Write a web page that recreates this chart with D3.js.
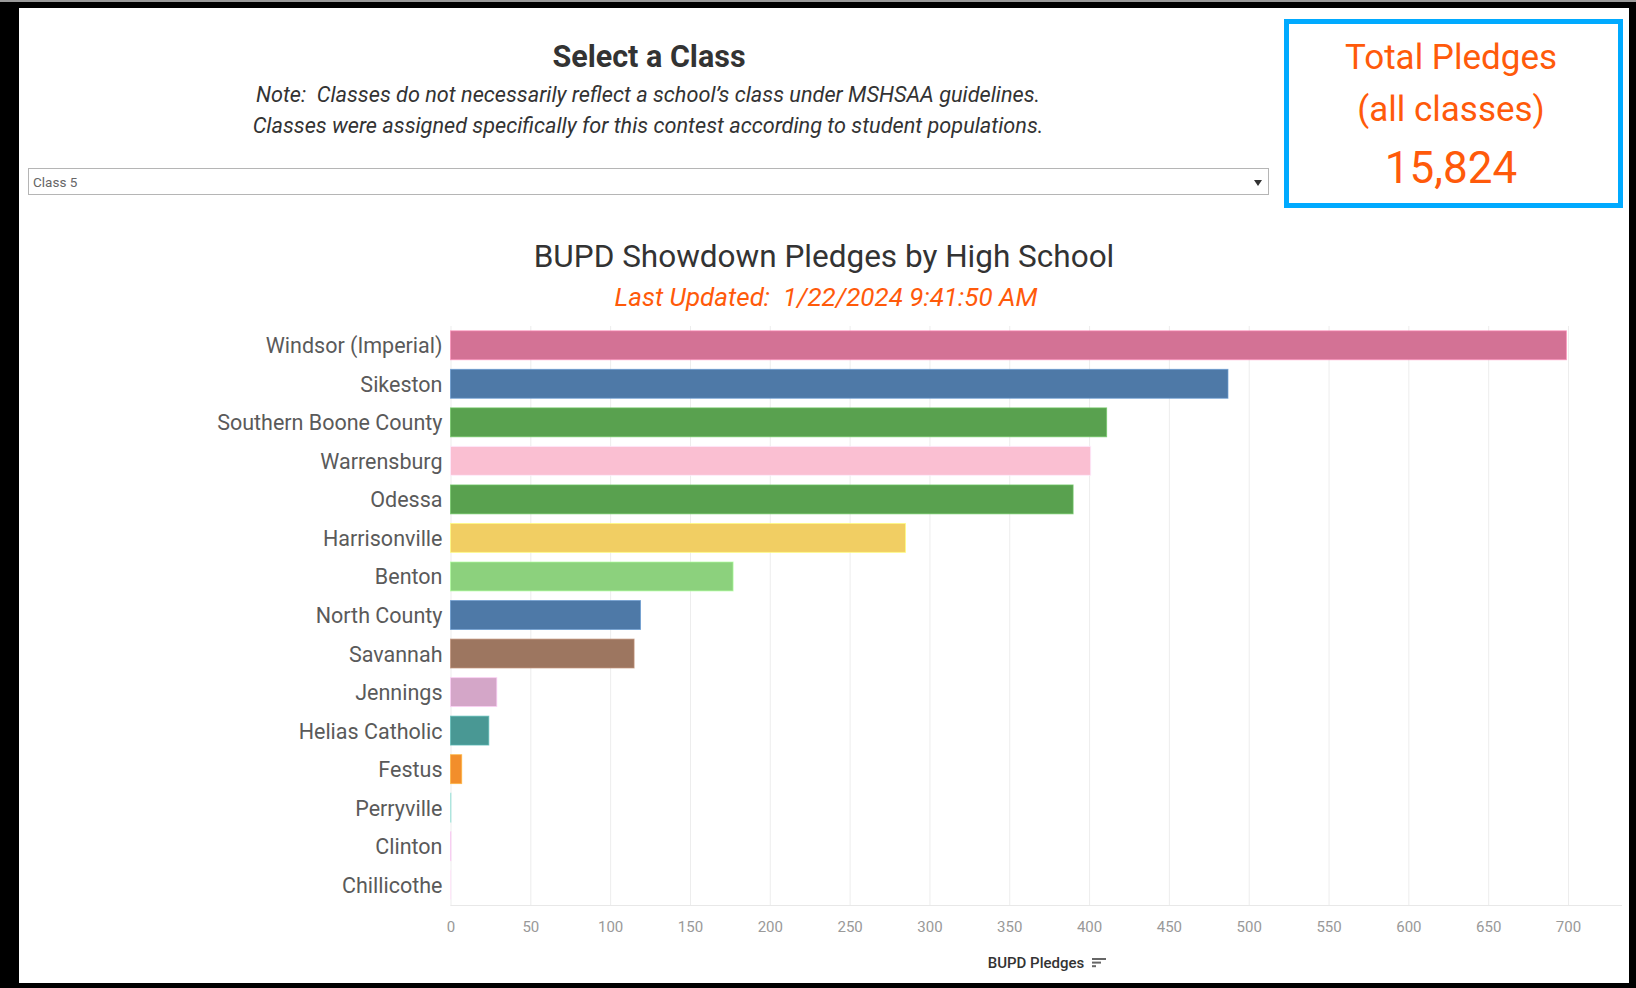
<!DOCTYPE html>
<html>
<head>
<meta charset="utf-8">
<script src="https://cdn.jsdelivr.net/npm/d3@7"></script>
<style>
  html, body { margin: 0; padding: 0; background: #fff; }
  svg { display: block; font-family: Roboto, "Open Sans", sans-serif; }
</style>
</head>
<body>
<svg id="chart" width="1636" height="988"></svg>
<script>
// data (Class 5)
const schools = [
    'Windsor (Imperial)', 'Sikeston', 'Southern Boone County', 'Warrensburg', 'Odessa',
    'Harrisonville', 'Benton', 'North County', 'Savannah', 'Jennings',
    'Helias Catholic', 'Festus', 'Perryville', 'Clinton', 'Chillicothe',
];
const pledges = [699, 487, 411, 401, 390, 285, 177, 119, 115, 29, 24, 7, 0, 0, 0];
const barColors = [
    '#d37295', '#4e79a7', '#59a14f', '#fabfd2', '#59a14f',
    '#f1ce63', '#8cd17d', '#4e79a7', '#9d7660', '#d4a6c8',
    '#499894', '#f28e2b', '#86bcb6', '#d4a6c8', '#fabfd2',
];
const xTicks = [0, 50, 100, 150, 200, 250, 300, 350, 400, 450, 500, 550, 600, 650, 700];
const totalPledges = 15824;
const selectedClass = 'Class 5';

const orange = '#ff5a0a';
const W = 1636;
const H = 988;

const svg = d3.select('#chart');

// Frame

svg.append('rect').attr('width', W).attr('height', H).attr('fill', '#000');
svg.append('rect').attr('width', W).attr('height', 2).attr('fill', '#9a9a9a');
svg.append('rect')
    .attr('x', 19).attr('y', 8)
    .attr('width', 1610).attr('height', 975)
    .attr('fill', '#fff');

// Header: class selector

svg.append('text')
    .attr('x', 649).attr('y', 67)
    .attr('text-anchor', 'middle')
    .attr('font-size', 30.5).attr('font-weight', 700)
    .attr('fill', '#333')
    .text('Select a Class');

const noteLines = [
    'Note:  Classes do not necessarily reflect a school\u2019s class under MSHSAA guidelines.',
    'Classes were assigned specifically for this contest according to student populations.',
];
svg.selectAll('text.note')
    .data(noteLines)
    .enter()
    .append('text')
    .attr('class', 'note')
    .attr('x', 648)
    .attr('y', (d, i) => 102 + i * 31)
    .attr('text-anchor', 'middle')
    .attr('font-size', 21.7).attr('font-style', 'italic')
    .attr('fill', '#333')
    .style('white-space', 'pre')
    .text(d => d);

svg.append('rect')
    .attr('x', 28.5).attr('y', 168.5)
    .attr('width', 1240).attr('height', 26)
    .attr('fill', '#fff').attr('stroke', '#b5b5b5');
svg.append('text')
    .attr('x', 33).attr('y', 187)
    .attr('font-size', 13.5).attr('fill', '#666')
    .text(selectedClass);
svg.append('path')
    .attr('d', 'M1254,180 L1262,180 L1258,186 Z')
    .attr('fill', '#333');

// Total box

svg.append('rect')
    .attr('x', 1286.5).attr('y', 21.5)
    .attr('width', 334).attr('height', 184)
    .attr('fill', 'none').attr('stroke', '#00aaff').attr('stroke-width', 5);
const totalLines = [
    { text: 'Total Pledges', y: 69, size: 35 },
    { text: '(all classes)', y: 121, size: 35 },
    { text: d3.format(',')(totalPledges), y: 183, size: 44 },
];
svg.selectAll('text.total')
    .data(totalLines)
    .enter()
    .append('text')
    .attr('class', 'total')
    .attr('x', 1451)
    .attr('y', d => d.y)
    .attr('text-anchor', 'middle')
    .attr('font-size', d => d.size)
    .attr('fill', orange)
    .text(d => d.text);

// Chart titles

svg.append('text')
    .attr('x', 824).attr('y', 267)
    .attr('text-anchor', 'middle')
    .attr('font-size', 31.5).attr('fill', '#333')
    .text('BUPD Showdown Pledges by High School');
svg.append('text')
    .attr('x', 826).attr('y', 306)
    .attr('text-anchor', 'middle')
    .attr('font-size', 26).attr('font-style', 'italic')
    .attr('fill', orange)
    .style('white-space', 'pre')
    .text('Last Updated:  1/22/2024 9:41:50 AM');

// Scales

const x = d3.scaleLinear().domain([0, 700]).range([450.5, 1568]);
const y = d3.scaleBand()
    .domain(schools)
    .range([326, 904])
    .paddingInner(0.25)
    .paddingOuter(0.125);
const colorOf = d3.scaleOrdinal().domain(schools).range(barColors);

// Grid

const grid = svg.append('g')
    .attr('transform', 'translate(0,326)')
    .call(d3.axisBottom(x).tickValues(xTicks).tickSize(580).tickFormat(''));
grid.select('.domain').remove();
grid.selectAll('line').attr('stroke', '#ededed');

svg.append('line')
    .attr('x1', x(0)).attr('x2', 1622)
    .attr('y1', 905.5).attr('y2', 905.5)
    .attr('stroke', '#e8e8e8');

// Bars (zero bars keep a hairline, as Tableau draws them)

svg.append('g')
    .selectAll('rect')
    .data(schools)
    .enter()
    .append('rect')
    .attr('x', x(0))
    .attr('y', d => y(d))
    .attr('width', (d, i) => Math.max(x(pledges[i]) - x(0), 0.5))
    .attr('height', y.bandwidth())
    .attr('fill', d => colorOf(d))
    .attr('stroke', d => d3.color(colorOf(d)).brighter(0.6))
    .attr('stroke-opacity', 0.7)
    .attr('stroke-width', 1);

// Axes

const yAxis = svg.append('g')
    .attr('transform', `translate(${x(0)},0)`)
    .call(d3.axisLeft(y).tickSize(0).tickPadding(8));
yAxis.select('.domain').remove();
yAxis.selectAll('text')
    .attr('font-family', 'Roboto, sans-serif')
    .attr('font-size', 21.5)
    .attr('dy', '0.37em')
    .attr('fill', '#5a5a5a');

const xAxis = svg.append('g')
    .attr('transform', 'translate(0,906)')
    .call(d3.axisBottom(x).tickValues(xTicks).tickSize(0).tickPadding(15));
xAxis.select('.domain').remove();
xAxis.selectAll('text')
    .attr('font-family', 'Roboto, sans-serif')
    .attr('font-size', 15)
    .attr('fill', '#999');

svg.append('text')
    .attr('x', 1036).attr('y', 968)
    .attr('text-anchor', 'middle')
    .attr('font-size', 15).attr('font-weight', 500)
    .attr('fill', '#333')
    .text('BUPD Pledges');

// sort indicator next to the axis title
const sortBars = [14, 9, 4];
svg.append('g')
    .selectAll('rect')
    .data(sortBars)
    .enter()
    .append('rect')
    .attr('x', 1092)
    .attr('y', (d, i) => 958 + i * 3.6)
    .attr('width', d => d)
    .attr('height', 2)
    .attr('fill', '#666');
</script>
</body>
</html>
